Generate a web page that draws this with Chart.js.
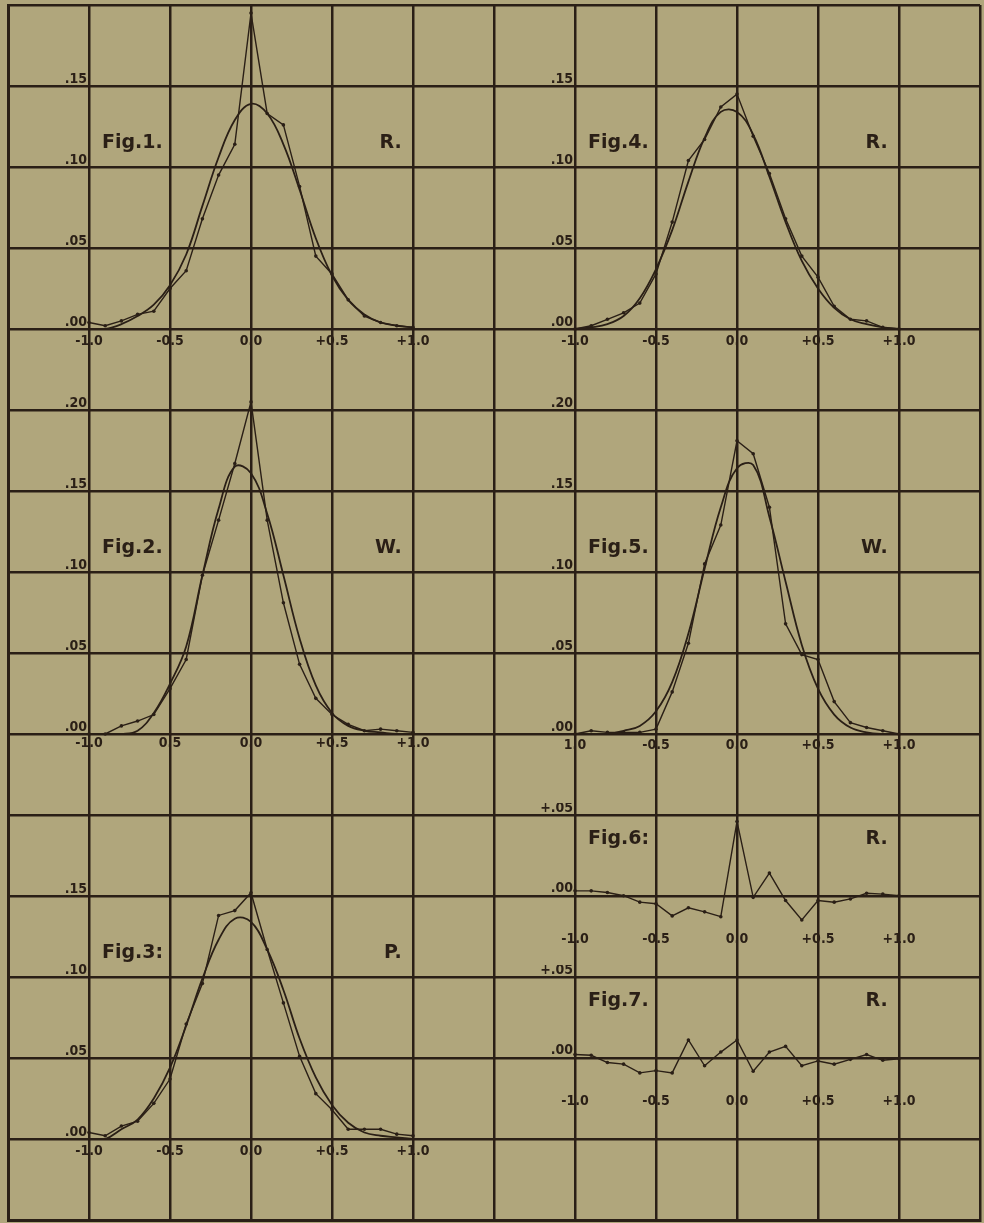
<!DOCTYPE html>
<html>
<head>
<meta charset="utf-8">
<script src="https://cdn.jsdelivr.net/npm/chart.js@4.4.1/dist/chart.umd.min.js"></script>
<style>
    body { margin: 0; background: #b0a67c; }
    #page { position: relative; width: 984px; height: 1223px; background: #b0a67c; overflow: hidden; }
    #page canvas { position: absolute; left: 0; top: 0; }
</style>
</head>
<body>
<div id="page"><canvas id="grid" width="984" height="1223"></canvas></div>
<script>
const INK = '#2a1f16';
const TICK_FONT = { family: '"DejaVu Sans Condensed","Liberation Sans Narrow","DejaVu Sans",sans-serif', size: 14, weight: 'bold' };

// abscissae of every plotted point
const xs = [-1.0, -0.9, -0.8, -0.7, -0.6, -0.5, -0.4, -0.3, -0.2, -0.1, 0.0, 0.1, 0.2, 0.3, 0.4, 0.5, 0.6, 0.7, 0.8, 0.9, 1.0];
const xTickVals = [-1, -0.5, 0, 0.5, 1];

// observed polygons (with dots) and fitted curves
const fig1Obs   = [0.004, 0.002, 0.005, 0.009, 0.011, 0.025, 0.036, 0.068, 0.095, 0.114, 0.195, 0.133, 0.126, 0.088, 0.045, 0.034, 0.018, 0.008, 0.004, 0.002, 0.001];
const fig1Curve = [0.000, 0.000, 0.003, 0.008, 0.015, 0.027, 0.046, 0.076, 0.106, 0.129, 0.139, 0.133, 0.114, 0.086, 0.056, 0.033, 0.018, 0.009, 0.004, 0.002, 0.001];
const fig2Obs   = [0.000, 0.000, 0.005, 0.008, 0.012, 0.028, 0.046, 0.098, 0.132, 0.167, 0.205, 0.132, 0.081, 0.043, 0.022, 0.012, 0.006, 0.002, 0.003, 0.002, 0.001];
const fig2Curve = [0.000, 0.000, 0.000, 0.002, 0.013, 0.031, 0.054, 0.098, 0.139, 0.165, 0.161, 0.136, 0.098, 0.059, 0.030, 0.013, 0.005, 0.002, 0.001, 0.000, 0.000];
const fig3Obs   = [0.004, 0.002, 0.008, 0.011, 0.022, 0.037, 0.071, 0.096, 0.138, 0.141, 0.152, 0.117, 0.084, 0.051, 0.028, 0.018, 0.006, 0.006, 0.006, 0.003, 0.002];
const fig3Curve = [0.000, 0.000, 0.006, 0.012, 0.025, 0.044, 0.070, 0.099, 0.123, 0.136, 0.134, 0.117, 0.092, 0.062, 0.038, 0.021, 0.010, 0.004, 0.002, 0.001, 0.000];
const fig4Obs   = [0.000, 0.002, 0.006, 0.010, 0.016, 0.034, 0.066, 0.104, 0.117, 0.137, 0.145, 0.119, 0.096, 0.068, 0.045, 0.032, 0.014, 0.006, 0.005, 0.001, 0.000];
const fig4Curve = [0.000, 0.001, 0.003, 0.008, 0.019, 0.037, 0.061, 0.091, 0.118, 0.134, 0.134, 0.120, 0.094, 0.066, 0.042, 0.025, 0.013, 0.006, 0.003, 0.001, 0.000];
const fig5Obs   = [0.000, 0.002, 0.001, 0.001, 0.001, 0.003, 0.026, 0.056, 0.105, 0.129, 0.181, 0.173, 0.140, 0.068, 0.049, 0.046, 0.020, 0.007, 0.004, 0.002, 0.000];
const fig5Curve = [0.000, 0.000, 0.000, 0.002, 0.005, 0.014, 0.032, 0.062, 0.102, 0.140, 0.164, 0.166, 0.134, 0.094, 0.055, 0.028, 0.012, 0.004, 0.001, 0.000, 0.000];
const fig6Diff  = [0.003, 0.003, 0.002, 0.000, -0.004, -0.005, -0.0125, -0.0075, -0.010, -0.013, 0.046, -0.001, 0.014, -0.003, -0.015, -0.003, -0.004, -0.002, 0.0015, 0.001, 0.000];
const fig7Diff  = [0.002, 0.0015, -0.003, -0.004, -0.0094, -0.008, -0.0094, 0.011, -0.005, 0.0035, 0.011, -0.0084, 0.0035, 0.007, -0.005, -0.002, -0.004, -0.001, 0.002, -0.0016, -0.0006];

// tick labels as printed
const xLabelsStd = ['-1.0', '-0.5', '0.0', '+0.5', '+1.0'];
const xLabelsFig2 = ['-1.0', '0.5', '0.0', '+0.5', '+1.0'];
const xLabelsFig5 = ['1.0', '-0.5', '0.0', '+0.5', '+1.0'];
const yTicks15 = [0, 0.05, 0.10, 0.15];
const yLabels15 = ['.00', '.05', '.10', '.15'];
const yTicks20 = [0, 0.05, 0.10, 0.15, 0.20];
const yLabels20 = ['.00', '.05', '.10', '.15', '.20'];
const yTicksDiff = [0, 0.05];
const yLabelsDiff = ['.00', '+.05'];

const figNames = ['Fig.1.', 'Fig.2.', 'Fig.3:', 'Fig.4.', 'Fig.5.', 'Fig.6:', 'Fig.7.'];
const figTags = ['R.', 'W.', 'P.', 'R.', 'W.', 'R.', 'R.'];

// background ruled sheet
const grid = new Chart(document.getElementById('grid'), {
    type: 'scatter',
    data: { datasets: [] },
    options: {
        responsive: false,
        animation: false,
        layout: { padding: { left: 8, top: 5, right: 4, bottom: 3 } },
        plugins: { legend: { display: false }, tooltip: { enabled: false } },
        scales: {
            x: {
                type: 'linear', min: 0, max: 12,
                ticks: { display: false, stepSize: 1 },
                grid: { color: INK, lineWidth: 2.5, drawTicks: false },
                border: { color: INK, width: 3 }
            },
            y: {
                type: 'linear', min: 0, max: 15, reverse: true,
                ticks: { display: false, stepSize: 1 },
                grid: { color: INK, lineWidth: 2.5, drawTicks: false },
                border: { color: INK, width: 3 }
            }
        }
    }
});

const figText = {
    id: 'figText',
    afterDatasetsDraw(chart, args, opts) {
        const { ctx, scales: { x, y } } = chart;
        ctx.save();
        ctx.fillStyle = INK;
        ctx.font = 'bold 19px "DejaVu Sans", sans-serif';
        ctx.textBaseline = 'middle';
        ctx.textAlign = 'left';
        ctx.fillText(opts.name, x.getPixelForValue(-0.92), y.getPixelForValue(opts.at));
        ctx.textAlign = 'right';
        ctx.fillText(opts.tag, x.getPixelForValue(0.93), y.getPixelForValue(opts.at));
        ctx.restore();
    }
};

const figs = [
    { col: 1, row: 4,  yMin: 0, yMax: 0.20, yTicks: yTicks15, yLabels: yLabels15, xLabels: xLabelsStd,  series: [fig1Obs, fig1Curve], xPad: 4, at: 0.115 },
    { col: 1, row: 9,  yMin: 0, yMax: 0.25, yTicks: yTicks20, yLabels: yLabels20, xLabels: xLabelsFig2, series: [fig2Obs, fig2Curve], xPad: 1, at: 0.115 },
    { col: 1, row: 14, yMin: 0, yMax: 0.20, yTicks: yTicks15, yLabels: yLabels15, xLabels: xLabelsStd,  series: [fig3Obs, fig3Curve], xPad: 4, at: 0.115 },
    { col: 7, row: 4,  yMin: 0, yMax: 0.20, yTicks: yTicks15, yLabels: yLabels15, xLabels: xLabelsStd,  series: [fig4Obs, fig4Curve], xPad: 4, at: 0.115 },
    { col: 7, row: 9,  yMin: 0, yMax: 0.25, yTicks: yTicks20, yLabels: yLabels20, xLabels: xLabelsFig5, series: [fig5Obs, fig5Curve], xPad: 3, at: 0.115 },
    { col: 7, row: 11, yMin: -0.02, yMax: 0.05, yTicks: yTicksDiff, yLabels: yLabelsDiff, xLabels: xLabelsStd, series: [fig6Diff], xPad: 3, at: 0.035 },
    { col: 7, row: 13, yMin: -0.02, yMax: 0.05, yTicks: yTicksDiff, yLabels: yLabelsDiff, xLabels: xLabelsStd, series: [fig7Diff], xPad: 3, at: 0.035 }
];

const AXW = 46, AXH = 28, PADT = 12, PADR = 30;
const page = document.getElementById('page');

figs.forEach((f, n) => {
    const gx = grid.scales.x, gy = grid.scales.y;
    // x from -1 to +1 spans four cells, y: 0.05 per cell
    const left = Math.round(gx.getPixelForValue(f.col));
    const right = Math.round(gx.getPixelForValue(f.col + 4));
    const zero = gy.getPixelForValue(f.row);
    const perY = (gy.getPixelForValue(f.row) - gy.getPixelForValue(f.row - 1)) / 0.05;
    const top = Math.round(zero - f.yMax * perY);
    const bottom = Math.round(zero - f.yMin * perY);

    const cv = document.createElement('canvas');
    cv.width = AXW + (right - left) + PADR;
    cv.height = PADT + (bottom - top) + AXH;
    cv.style.left = (left - AXW) + 'px';
    cv.style.top = (top - PADT) + 'px';
    page.appendChild(cv);

    new Chart(cv, {
        type: 'line',
        data: {
            datasets: f.series.map((s, i) => ({
                data: xs.map((x, j) => ({ x: x, y: s[j] })),
                borderColor: INK,
                borderWidth: i === 0 ? 1.4 : 1.8,
                pointRadius: i === 0 ? 1.8 : 0,
                pointBackgroundColor: INK,
                pointBorderWidth: 0,
                tension: i === 0 ? 0 : 0.4,
                clip: false
            }))
        },
        plugins: [figText],
        options: {
            responsive: false,
            animation: false,
            layout: { padding: { top: PADT, right: PADR, left: 0, bottom: 0 } },
            plugins: {
                legend: { display: false },
                tooltip: { enabled: false },
                figText: { name: figNames[n], tag: figTags[n], at: f.at }
            },
            scales: {
                x: {
                    type: 'linear', min: -1, max: 1,
                    afterFit: s => { s.height = AXH; },
                    afterBuildTicks: s => { s.ticks = xTickVals.map(v => ({ value: v })); },
                    ticks: { callback: (v, i) => f.xLabels[i], color: INK, font: TICK_FONT, padding: f.xPad, autoSkip: false, maxRotation: 0 },
                    grid: { display: false, drawTicks: false },
                    border: { display: false }
                },
                y: {
                    type: 'linear', min: f.yMin, max: f.yMax,
                    afterFit: s => { s.width = AXW; },
                    afterBuildTicks: s => { s.ticks = f.yTicks.map(v => ({ value: v })); },
                    ticks: { callback: (v, i) => f.yLabels[i], color: INK, font: TICK_FONT, padding: 2, labelOffset: -7, autoSkip: false },
                    grid: { display: false, drawTicks: false },
                    border: { display: false }
                }
            }
        }
    });
});
</script>
</body>
</html>
